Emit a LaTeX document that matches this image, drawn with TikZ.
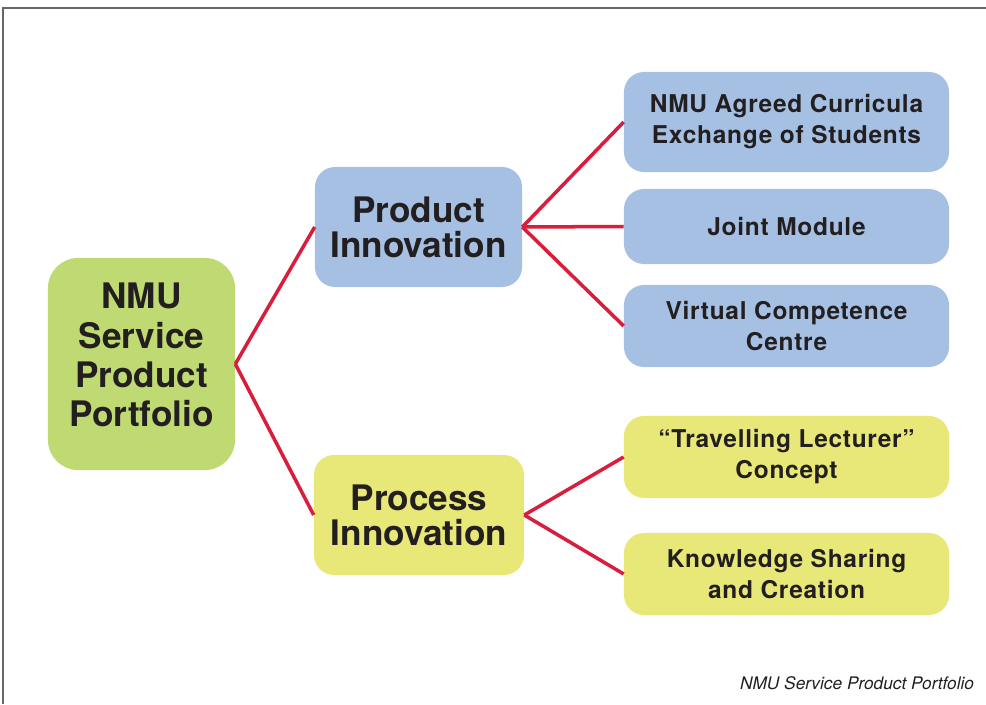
\documentclass[tikz,border=0pt]{standalone}
\usepackage{fontspec}
\setmainfont{TeX Gyre Heros}
\usetikzlibrary{positioning}
\definecolor{rootgreen}{RGB}{192,218,115}
\definecolor{prodblue}{RGB}{166,192,227}
\definecolor{procyellow}{RGB}{232,232,120}
\definecolor{linkred}{RGB}{216,30,60}
\definecolor{inkdark}{RGB}{35,31,32}
\tikzset{
  box/.style={rounded corners=0.5cm, align=center, text=inkdark, font=\bfseries, inner sep=0pt},
  rootbox/.style={box, fill=rootgreen, rounded corners=0.75cm,
    minimum width=4.675cm, minimum height=5.3cm, text depth=0.45cm,
    font=\bfseries\fontsize{25}{27.9}\selectfont},
  midbox/.style={box, minimum height=3cm,
    font=\bfseries\fontsize{25}{25}\selectfont},
  leafbox/.style={box, minimum width=8.125cm,
    font=\bfseries\fontsize{17.4}{22}\addfontfeatures{LetterSpace=3}\selectfont},
  link/.style={draw=linkred, line width=2.5pt}
}
\begin{document}
\begin{tikzpicture}[x=0.025cm, y=-0.025cm]
  \useasboundingbox (0,0) rectangle (986,704);
  \draw[gray!80!black, line width=0.8pt] (3,704) -- (3,8) -- (986,8);
  \node[rootbox] (root) at (141.5,364) {NMU\\Service\\Product\\Portfolio};
  \node[midbox, fill=prodblue, minimum width=5.175cm] (prod) at (418.5,227) {Product\\Innovation};
  \node[midbox, fill=procyellow, minimum width=5.25cm] (proc) at (419,515) {Process\\Innovation};
  \node[leafbox, fill=prodblue, minimum height=2.5cm] (curr) at (786.5,122) {NMU Agreed Curricula\\Exchange of Students};
  \node[leafbox, fill=prodblue, minimum height=1.875cm] (joint) at (786.5,226.5) {Joint Module};
  \node[leafbox, fill=prodblue, minimum height=2.05cm] (virt) at (786.5,326) {Virtual Competence\\Centre};
  \node[leafbox, fill=procyellow, minimum height=2.05cm] (trav) at (786.5,457) {“Travelling Lecturer”\\Concept};
  \node[leafbox, fill=procyellow, minimum height=2.05cm] (know) at (786.5,574) {Knowledge Sharing\\and Creation};
  \node[anchor=east, text=inkdark, font=\itshape\fontsize{12.3}{14}\selectfont] (cap) at (979,683) {NMU Service Product Portfolio};
  \begin{scope}[link]
    \draw (root.east) to (prod.west);
    \draw (root.east) to (proc.west);
    \draw (prod.east) to (curr.west);
    \draw (prod.east) to (joint.west);
    \draw (prod.east) to (virt.west);
    \draw (proc.east) to (trav.west);
    \draw (proc.east) to (know.west);
  \end{scope}
\end{tikzpicture}
\end{document}
